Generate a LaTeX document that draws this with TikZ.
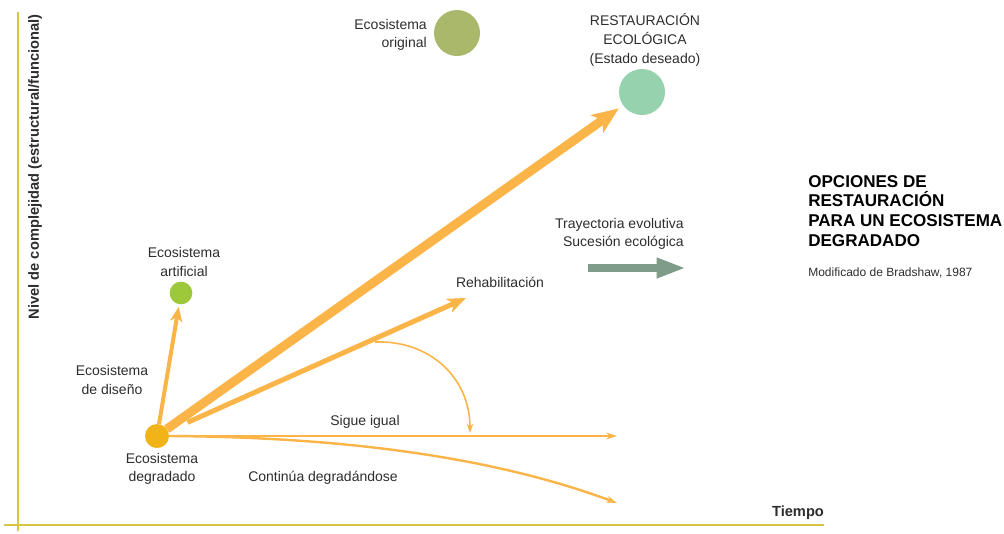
\documentclass[tikz,border=0pt]{standalone}
\usepackage{fontspec}
\setmainfont{Liberation Sans}
\usetikzlibrary{arrows.meta}

\definecolor{ejeAm}{RGB}{214,198,66}
\definecolor{naranja}{RGB}{251,180,72}
\definecolor{ecoDeg}{RGB}{240,180,24}
\definecolor{ecoArt}{RGB}{156,200,58}
\definecolor{ecoOri}{RGB}{169,184,106}
\definecolor{ecoRes}{RGB}{151,210,174}
\definecolor{grisVd}{RGB}{126,156,136}
\definecolor{texto}{RGB}{45,45,45}

\begin{document}
\begin{tikzpicture}[x=0.75pt, y=-0.75pt,
  txt/.style={font=\fontsize{10.5}{14}\selectfont, text=texto, align=center, inner sep=0pt},
  eco/.style={circle, inner sep=0pt, outer sep=0pt},
  eje/.style={draw=ejeAm, line width=2pt},
  flecha/.style={draw=naranja}]

\useasboundingbox (0,0) rectangle (1004,533);

% ejes
\coordinate (ejeY0) at (18,531);
\coordinate (ejeY1) at (18,12);
\coordinate (ejeX0) at (4,525);
\coordinate (ejeX1) at (824,525);
\draw[eje] (ejeY0) -- (ejeY1);
\draw[eje] (ejeX0) -- (ejeX1);
\node[txt, rotate=90, font=\fontsize{11}{12}\selectfont\bfseries] (lblY) at (35,167)
  {Nivel de complejidad (estructural/funcional)};
\node[txt, font=\fontsize{11}{12}\selectfont\bfseries] (lblX) at (798,513) {Tiempo};

% ecosistemas
\node[eco, fill=ecoDeg, minimum size=18pt] (eDeg)  at (157,436) {};
\node[eco, fill=ecoArt, minimum size=17pt] (eArt)  at (181,293) {};
\node[eco, fill=ecoOri, minimum size=34.5pt] (eOri) at (457,33) {};
\node[eco, fill=ecoRes, minimum size=34.5pt] (eRes) at (642,92) {};

\node[txt] (tDeg) at (162,469) {Ecosistema\\degradado};
\node[txt] (tArt) at (184,262) {Ecosistema\\artificial};
\node[txt] (tDis) at (112,380) {Ecosistema\\de diseño};
\node[txt, align=right, anchor=east] (tOri) at (427,35) {Ecosistema\\original};
\node[txt] (tRes) at (645,40) {RESTAURACIÓN\\ECOLÓGICA\\(Estado deseado)};
\node[txt] (tReh) at (500,282) {Rehabilitación};
\node[txt] (tIgu) at (365,422) {Sigue igual};
\node[txt] (tCon) at (323,478) {Continúa degradándose};

% trayectorias
\coordinate (cReh) at (466,298);
\coordinate (cIgu) at (617,436);
\coordinate (cCon) at (617,503);
\coordinate (cArcA) at (375,342);
\coordinate (cArcB) at (470,433);

\draw[flecha, line width=6.75pt, -{Stealth[length=20pt, width=16pt, inset=5pt]}, shorten >=4pt]
  (eDeg) -- (eRes);
\draw[flecha, line width=3pt, -{Stealth[length=11pt, width=9pt, inset=3pt]}, shorten >=2pt]
  (eDeg) -- (eArt);
\draw[flecha, line width=3.75pt, -{Stealth[length=14pt, width=11pt, inset=4pt]}, shorten <=16pt]
  (eDeg) -- (cReh);
\draw[flecha, line width=1.2pt, -{Stealth[length=7pt, width=5pt]}]
  (cArcA) .. controls +(55,-2) and +(0,-55) .. (cArcB);
\draw[flecha, line width=1.6pt, -{Stealth[length=8pt, width=5pt]}]
  (eDeg.east) -- (cIgu);
\draw[flecha, line width=1.8pt, -{Stealth[length=8pt, width=5pt]}]
  (eDeg.east) .. controls (320,437) and (480,452) .. (cCon);

% leyenda
\node[txt, align=right, anchor=east] (tTra) at (684,234) {Trayectoria evolutiva\\Sucesión ecológica};
\coordinate (cTrA) at (588,268);
\coordinate (cTrB) at (686,268);
\draw[draw=grisVd, line width=6.5pt, -{Triangle[length=22pt, width=14pt]}] (cTrA) -- (cTrB);

\node[txt, align=left, anchor=north west, text=black,
  font=\fontsize{12.8}{14.8}\selectfont\bfseries] (tTit) at (808,175)
  {OPCIONES DE\\RESTAURACIÓN\\PARA UN ECOSISTEMA\\DEGRADADO};
\node[txt, anchor=west, font=\fontsize{9}{11}\selectfont] (tMod) at (808,273)
  {Modificado de Bradshaw, 1987};

\end{tikzpicture}
\end{document}
